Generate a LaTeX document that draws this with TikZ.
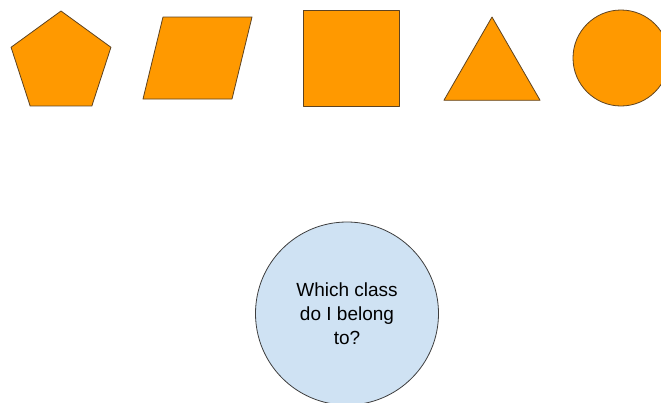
\documentclass[tikz,border=0pt]{standalone}
\usepackage{fontspec}
\setmainfont{Liberation Sans}
\usepackage{xcolor}
\usetikzlibrary{shapes.geometric}

\definecolor{shapeorange}{HTML}{FF9900}
\definecolor{shapeline}{HTML}{5E4321}
\definecolor{queryblue}{HTML}{CFE2F3}
\definecolor{queryline}{HTML}{3E3E3E}

\begin{document}
\begin{tikzpicture}[
  x=1pt, y=-1pt,
  every node/.style={align=center},
  known/.style={
    draw=shapeline, fill=shapeorange, line width=0.8pt,
    inner sep=0pt, line join=round
  },
  query/.style={
    circle, draw=queryline, fill=queryblue, line width=0.8pt,
    inner sep=0pt, minimum size=183pt,
    font=\fontsize{19}{24}\selectfont
  }
]
\clip (0,0) rectangle (661,402);

% the known classes
\node[known, regular polygon, regular polygon sides=5, minimum size=105pt] (pentagon) at (61,63.5) {};
\draw[known] (143,99) -- (163,17) -- (252,17) -- (232,99) -- cycle;
\node[known, rectangle, minimum width=96pt, minimum height=96pt] (square) at (351,58) {};
\node[known, regular polygon, regular polygon sides=3, minimum size=111pt] (triangle) at (492,72.5) {};
\node[known, circle, minimum size=96pt] (disc) at (621,58) {};

% the unknown one
\node[query] (unknown) at (347,313.5) {Which class\\do I belong\\to?};

\end{tikzpicture}
\end{document}
